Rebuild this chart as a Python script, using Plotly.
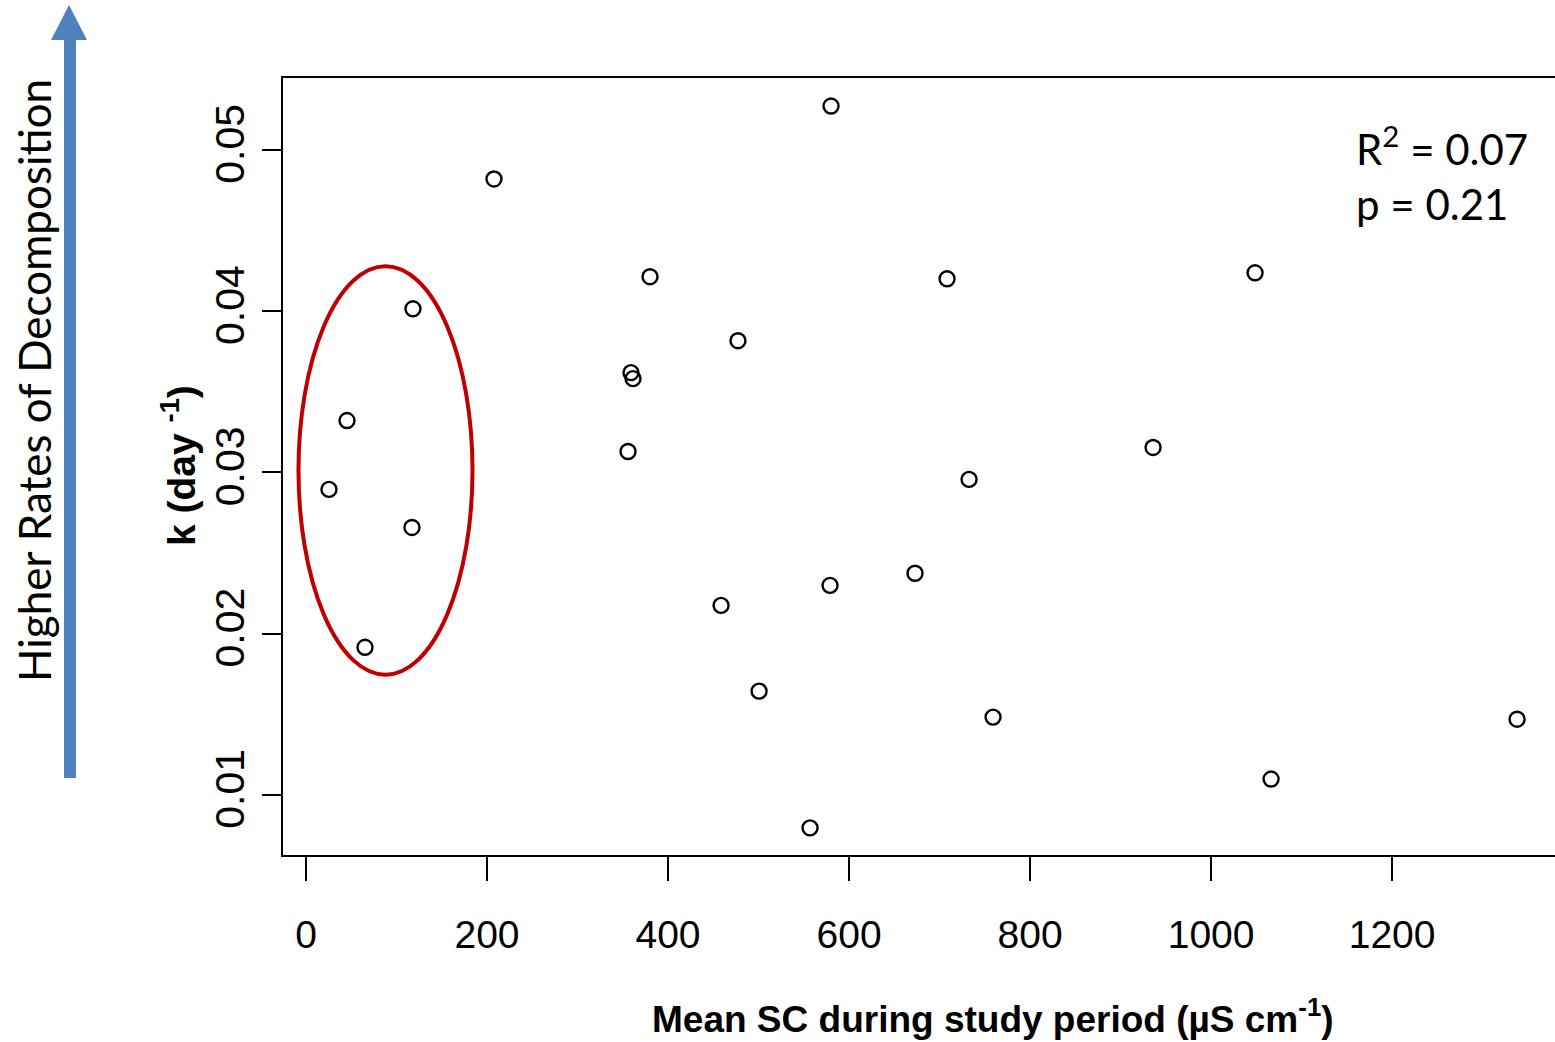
import plotly.graph_objects as go

# ---- data ----
mean_sc = [25.4, 45.3, 65.2, 118.2, 117.1, 207.7, 359.1, 361.3, 355.8, 380.1,
           477.3, 458.6, 500.6, 556.9, 579.0, 580.1, 672.9, 708.3, 732.6, 759.1,
           935.9, 1048.6, 1066.3, 1338.1]
k_day = [0.02895, 0.03322, 0.01916, 0.04015, 0.02659, 0.04820, 0.03619, 0.03582,
         0.03130, 0.04214, 0.03817, 0.02176, 0.01644, 0.00796, 0.02300, 0.05272,
         0.02375, 0.04201, 0.02957, 0.01483, 0.03155, 0.04238, 0.01099, 0.01470]
x_ticks = [0, 200, 400, 600, 800, 1000, 1200]
y_ticks = [0.01, 0.02, 0.03, 0.04, 0.05]
y_tick_labels = ["0.01", "0.02", "0.03", "0.04", "0.05"]
stats_text = ["R<sup>2</sup> = 0.07", "p = 0.21"]
# highlighted group (ellipse bounds in data units)
ellipse_x = [-8.3, 184.0]
ellipse_y = [0.01746, 0.04279]

W, H = 1555, 1042
L, R, T, B = 283, 0, 78, 187
PW, PH = W - L - R, H - T - B

def px(x):  # pixel x -> paper
    return (x - L) / PW

def py(y):  # pixel y -> paper
    return (H - B - y) / PH

fig = go.Figure()
fig.add_trace(go.Scatter(
    x=mean_sc, y=k_day, mode="markers",
    marker=dict(symbol="circle-open", size=15, color="black",
                line=dict(color="black", width=2.4)),
    showlegend=False, hoverinfo="x+y"))

shapes = [
    dict(type="circle", xref="x", yref="y",
         x0=ellipse_x[0], x1=ellipse_x[1], y0=ellipse_y[0], y1=ellipse_y[1],
         line=dict(color="#C00000", width=4)),
    # arrow shaft + head
    dict(type="rect", xref="paper", yref="paper",
         x0=px(64), x1=px(76), y0=py(778), y1=py(39),
         fillcolor="#4F81BD", line=dict(width=0)),
    dict(type="path", xref="paper", yref="paper",
         path=f"M {px(51)},{py(40)} L {px(87)},{py(40)} L {px(69)},{py(5)} Z",
         fillcolor="#4F81BD", line=dict(width=0)),
]

annotations = [
    dict(text="Higher Rates of Decomposition", xref="paper", yref="paper",
         x=px(34), y=py(381), showarrow=False, textangle=-90,
         font=dict(family="Lato", size=44, color="black"),
         xanchor="center", yanchor="middle"),
    dict(text="<b>k (day <sup>-1</sup>)</b>", xref="paper", yref="paper",
         x=px(178), y=py(466), showarrow=False, textangle=-90,
         font=dict(family="Liberation Sans", size=39, color="black"),
         xanchor="center", yanchor="middle"),
    dict(text="<b>Mean SC during study period (µS cm<sup>-1</sup>)</b>",
         xref="paper", yref="paper", x=px(993), y=py(1016), showarrow=False,
         font=dict(family="Liberation Sans", size=37, color="black"),
         xanchor="center", yanchor="middle"),
    dict(text=stats_text[0], xref="paper", yref="paper",
         x=px(1354), y=py(146), showarrow=False, xanchor="left", yanchor="middle",
         font=dict(family="Lato", size=42, color="black")),
    dict(text=stats_text[1], xref="paper", yref="paper",
         x=px(1354), y=py(204), showarrow=False, xanchor="left", yanchor="middle",
         font=dict(family="Lato", size=42, color="black")),
]

fig.update_layout(
    width=W, height=H,
    margin=dict(l=L, r=R, t=T, b=B, pad=0),
    paper_bgcolor="white", plot_bgcolor="white",
    shapes=shapes, annotations=annotations,
    xaxis=dict(range=[-25.4, 1380], tickvals=x_ticks, ticks="outside",
               ticklen=24, tickwidth=2, tickcolor="black",
               showline=True, linecolor="black", linewidth=2, mirror=True,
               showgrid=False, zeroline=False,
               tickfont=dict(family="Liberation Sans", size=39, color="black"),
               ticklabelstandoff=20),
    yaxis=dict(range=[0.00628, 0.05446], tickvals=y_ticks, ticktext=y_tick_labels,
               ticks="outside", ticklen=19, tickwidth=2, tickcolor="black",
               showline=True, linecolor="black", linewidth=2, mirror=False,
               showgrid=False, zeroline=False, tickangle=-90,
               tickfont=dict(family="Liberation Sans", size=41, color="black"),
               ticklabelstandoff=2),
)

fig.write_html("out.html", config={"displayModeBar": False},
               post_script="document.body.style.margin='0';document.body.style.overflow='hidden';")
